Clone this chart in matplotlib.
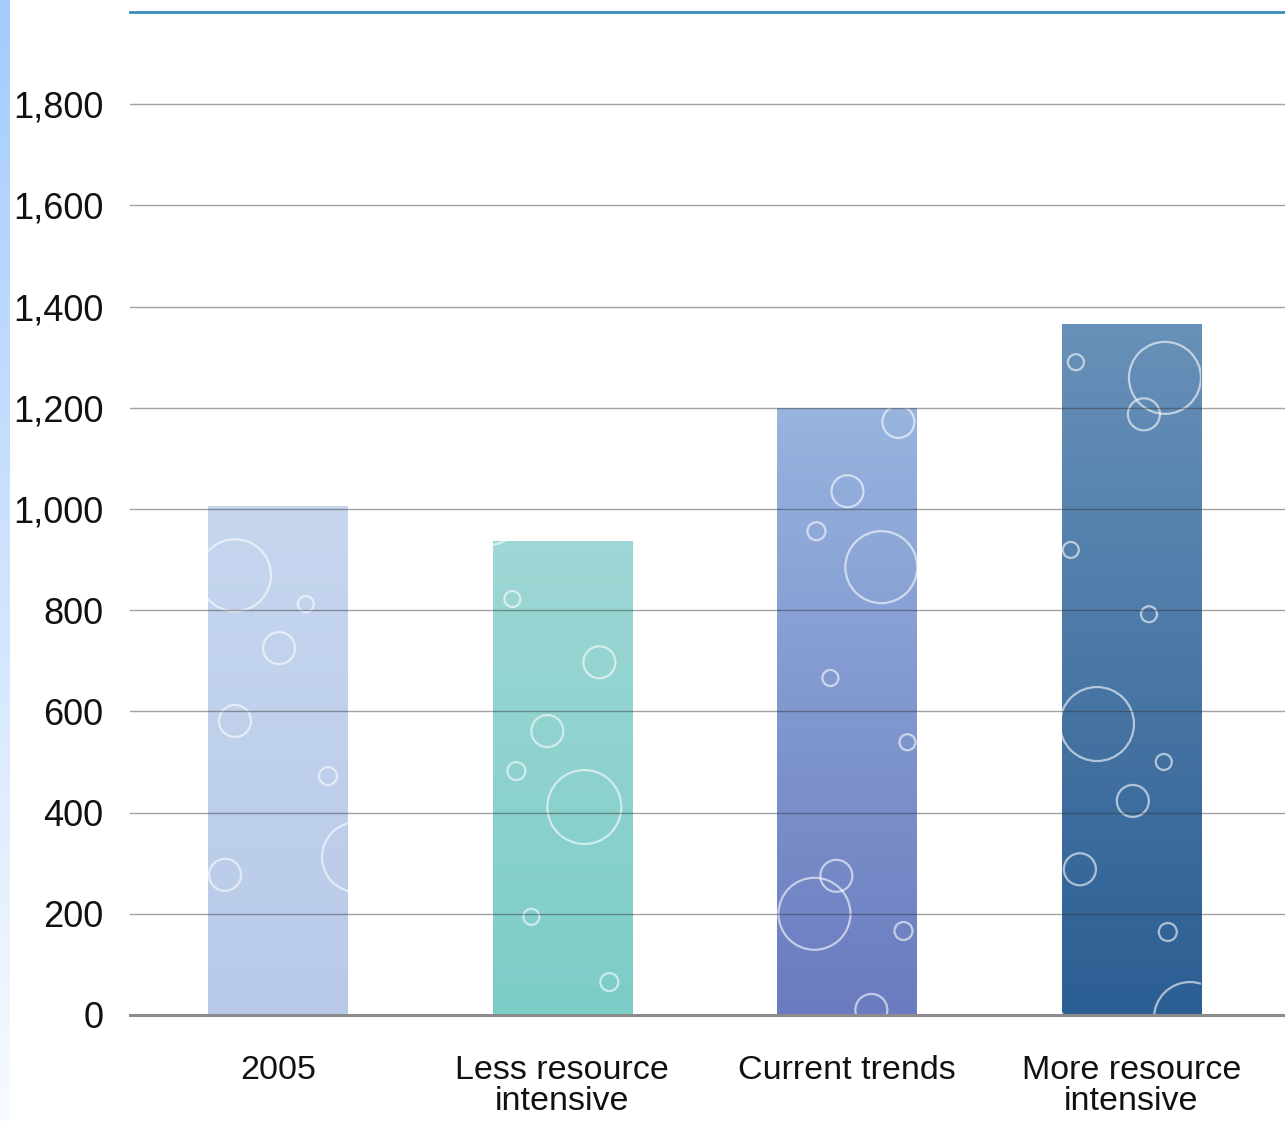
import numpy as np
import matplotlib
matplotlib.use("Agg")
import matplotlib.pyplot as plt
from matplotlib.colors import LinearSegmentedColormap

# Chart data
categories = ["2005", "Less resource\nintensive", "Current trends", "More resource\nintensive"]
values = [1005, 937, 1200, 1365]
y_ticks = [0, 200, 400, 600, 800, 1000, 1200, 1400, 1600, 1800]
y_tick_labels = ["0", "200", "400", "600", "800", "1,000", "1,200", "1,400", "1,600", "1,800"]

# Bar gradient colours (top, bottom)
bar_top_colors = ["#c6d6ef", "#9ed7d5", "#98b4df", "#6891b9"]
bar_bottom_colors = ["#b8cae8", "#7ccdc7", "#6a7bbf", "#2b5e93"]

# Decorative bubbles: (bar index, x offset from bar centre, height, radius in px)
bubbles = [
    (0, -0.151, 869, 36), (0, 0.098, 812, 8), (0, 0.004, 725, 16), (0, -0.151, 581, 16),
    (0, 0.176, 472, 9), (0, -0.186, 277, 16), (0, 0.278, 312, 35),
    (1, -0.257, 988, 30), (1, -0.176, 822, 8), (1, 0.130, 697, 16), (1, -0.053, 561, 16),
    (1, -0.162, 482, 9), (1, 0.077, 411, 37), (1, -0.109, 194, 8), (1, 0.165, 65, 9),
    (2, 0.181, 1172, 16), (2, 0.002, 1035, 16), (2, -0.107, 956, 9), (2, 0.121, 885, 36),
    (2, -0.058, 666, 8), (2, 0.213, 539, 8), (2, -0.037, 275, 16), (2, -0.114, 200, 36),
    (2, 0.199, 166, 9), (2, 0.086, 10, 16),
    (3, -0.195, 1290, 8), (3, 0.118, 1259, 36), (3, 0.044, 1187, 16), (3, -0.213, 919, 8),
    (3, 0.062, 792, 8), (3, -0.121, 575, 37), (3, 0.114, 500, 8), (3, 0.005, 423, 16),
    (3, -0.181, 288, 16), (3, 0.128, 164, 9), (3, 0.206, -6, 36), (3, -0.322, -30, 28),
]

W, H, DPI = 1285, 1121, 100
fig = plt.figure(figsize=(W / DPI, H / DPI), dpi=DPI)
plt.rcParams["font.family"] = ["Liberation Sans", "DejaVu Sans"]

# Pale blue gradient strip along the left edge
strip = fig.add_axes([0, 0, 10 / W, 1])
strip.imshow(np.linspace(0, 1, 256).reshape(-1, 1), aspect="auto",
             cmap=LinearSegmentedColormap.from_list("strip", ["#a4cbfd", "#f8fbff"]),
             extent=[0, 1, 0, 1])
strip.set_axis_off()

ax = fig.add_axes([130 / W, (H - 1015) / H, 1 - 130 / W, (1015 - 12) / H])
ymax = 1982
bar_w = 0.49
x = np.arange(len(values))

bars = ax.bar(x, values, width=bar_w, color="none", edgecolor="none", zorder=2)
grad = np.linspace(0, 1, 256).reshape(-1, 1)
for i, (rect, v) in enumerate(zip(bars, values)):
    cmap = LinearSegmentedColormap.from_list(f"b{i}", [bar_top_colors[i], bar_bottom_colors[i]])
    im = ax.imshow(grad, aspect="auto", cmap=cmap, zorder=2,
                   extent=[i - bar_w / 2, i + bar_w / 2, 0, v], origin="upper")
    im.set_clip_path(rect)
    bx = [b[1] + i for b in bubbles if b[0] == i]
    by = [b[2] for b in bubbles if b[0] == i]
    bs = [(2 * b[3] * 72 / DPI) ** 2 for b in bubbles if b[0] == i]
    sc = ax.scatter(bx, by, s=bs, facecolors="none", edgecolors="white",
                    linewidths=1.6, alpha=0.6, zorder=3)
    sc.set_clip_path(rect)

ax.set_xlim(-0.52, 3.54)
ax.set_ylim(0, ymax)

# Gridlines over the bars
for t in y_ticks[1:]:
    ax.axhline(t, color="#333333", alpha=0.45, lw=1.0, zorder=4)

ax.set_yticks(y_ticks)
ax.set_yticklabels(y_tick_labels)
ax.set_xticks(x)
ax.set_xticklabels(categories, linespacing=1.0)
ax.tick_params(axis="y", length=0, pad=19, labelsize=26, labelcolor="#111111")
ax.tick_params(axis="x", length=0, pad=29, labelsize=24.5, labelcolor="#111111")

for s in ["left", "right"]:
    ax.spines[s].set_visible(False)
ax.spines["bottom"].set_color("#8c8c8c")
ax.spines["bottom"].set_linewidth(2.2)
ax.spines["bottom"].set_zorder(5)
ax.spines["top"].set_color("#3a8cc0")
ax.spines["top"].set_linewidth(2.0)

fig.savefig("out.png", dpi=DPI)
